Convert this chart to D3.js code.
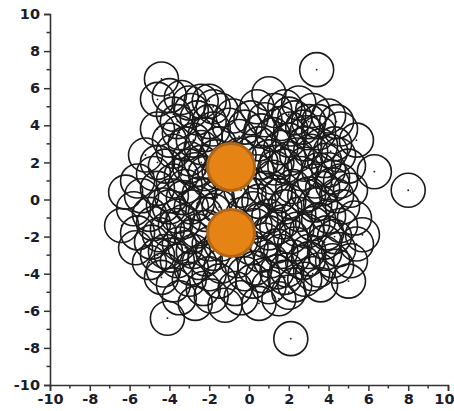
<!DOCTYPE html>
<html>
<head>
<meta charset="utf-8">
<script src="https://cdn.jsdelivr.net/npm/d3@7"></script>
<style>
  html, body { margin: 0; padding: 0; background: #fff; }
  svg { display: block; }
  .tick text { font-family: "DejaVu Sans", Arial, sans-serif; font-weight: bold; font-size: 14.5px; fill: #1b1b2c; }
</style>
</head>
<body>
<svg id="chart" width="454" height="411"></svg>
<script>
// Axis ticks (both axes share the same labelled values)
const xTicks = [-10, -8, -6, -4, -2, 0, 2, 4, 6, 8, 10];
const yTicks = [-10, -8, -6, -4, -2, 0, 2, 4, 6, 8, 10];
const minorTicks = [-9, -7, -5, -3, -1, 1, 3, 5, 7, 9];

// Scattered samples: x and y coordinates
const sampleX = [
  3.4, -4.4,
  -4.6, -3.4, -3.0, -2.0, -1.4, 1.0, 1.8, 2.5, 3.2,
  -3.8, -2.6, -2.0, -0.8, 0.1, 0.8, 1.6, 2.3, 3.0, 4.0, 4.6,
  -4.6, -4.0, -3.5, -2.8, -2.2, -1.5, -0.5, 0.5, 1.2, 2.0, 2.8, 3.5, 4.3, 5.4,
  -5.2, -4.6, -3.8, -3.0, -2.4, -1.7, 0.2, 1.0, 1.6, 2.4, 3.1, 3.8, 4.5, 5.0,
  -5.6, -4.8, -4.2, -3.4, -2.7, -2.0, 0.4, 1.2, 1.8, 2.6, 3.3, 4.0, 4.6, 6.3,
  -6.2, -5.4, -4.6, -3.9, -3.2, -2.5, -1.6, 0.0, 0.8, 1.5, 2.2, 3.0, 3.7, 4.4, 5.1, 8.0,
  -5.8, -5.0, -4.3, -3.6, -2.9, -2.2, 0.2, 1.0, 1.8, 2.5, 3.3, 4.0, 4.7, 5.3,
  -6.4, -5.6, -4.8, -4.1, -3.3, -2.6, 0.3, 1.0, 1.7, 2.4, 3.2, 3.9, 4.6, 5.7,
  -5.7, -4.9, -4.2, -3.5, -2.8, -2.0, 0.1, 0.8, 1.6, 2.3, 3.0, 3.8, 4.5, 5.4,
  -5.0, -4.3, -3.6, -2.9, -2.2, -1.4, -0.6, 0.3, 1.1, 1.9, 2.7, 3.5, 4.2, 5.1,
  -4.4, -3.8, -3.0, -2.3, -1.5, -0.7, 0.2, 1.0, 1.8, 2.8, 3.6, 5.0,
  -3.5, -2.7, -1.9, -1.2, -0.4, 0.5, 1.5, 2.0,
  -4.1, 2.1,
  -3.2, -2.4, -1.8, -0.2, 0.6, 1.4, 2.1, 2.9, 3.6, 4.1,
  -3.8, -3.0, -2.2, 0.6, 1.3, 2.0, 2.8, 3.5, 4.2,
  -4.0, -3.3, -2.6, -1.8, -0.4, 0.5, 1.3, 2.0, 2.8, 3.6, 4.2,
  -4.5, -3.7, -2.9, -2.1, 0.6, 1.4, 2.1, 2.9, 3.5, 4.3,
  -4.6, -3.9, -3.2, -2.5, -1.8, 0.6, 1.4, 2.2, 3.0, 3.8, 4.4,
  -2.0, -0.2, 0.7, 1.4, 2.3, 3.2,
  -1.0, -0.5, -1.5, -1.0, -0.4, -1.4, -0.9, -0.3, -1.5,
  -4.0, -3.6, -2.9, -2.4, -1.8, -1.0, 0.4, 1.3, 2.0, 2.7, 3.5, 4.4
];
const sampleY = [
  7.0, 6.5,
  5.4, 5.5, 5.2, 5.3, 4.8, 5.7, 5.0, 5.2, 4.8,
  4.6, 4.4, 4.2, 4.5, 4.4, 4.3, 4.1, 4.4, 4.2, 4.5, 3.8,
  3.8, 3.2, 3.6, 3.2, 3.5, 3.0, 3.4, 3.0, 3.5, 3.2, 3.0, 3.6, 3.0, 3.2,
  2.4, 2.0, 2.6, 2.2, 2.8, 2.3, 2.5, 2.3, 2.8, 2.4, 2.6, 2.1, 2.4, 1.8,
  1.0, 1.4, 1.8, 1.3, 1.6, 1.0, 1.5, 1.2, 1.8, 1.4, 1.0, 1.6, 1.0, 1.5,
  0.4, 0.2, 0.6, 0.2, 0.7, 0.3, 0.1, 0.3, 0.6, 0.2, 0.7, 0.3, 0.6, 0.2, 0.5, 0.5,
  -0.5, -0.8, -0.3, -0.9, -0.4, -0.8, -0.5, -0.9, -0.4, -0.8, -0.3, -0.9, -0.4, -1.0,
  -1.4, -1.8, -1.3, -1.6, -1.2, -1.7, -1.4, -1.8, -1.2, -1.6, -1.3, -1.8, -1.4, -1.9,
  -2.6, -2.3, -2.8, -2.4, -2.8, -2.4, -2.6, -2.2, -2.8, -2.4, -2.8, -2.3, -2.7, -2.4,
  -3.4, -3.8, -3.3, -3.7, -3.2, -3.6, -3.3, -3.7, -3.3, -3.8, -3.4, -3.8, -3.3, -3.3,
  -4.2, -4.6, -4.3, -4.8, -4.4, -4.8, -4.4, -4.7, -4.2, -4.3, -4.6, -4.4,
  -5.3, -5.6, -5.2, -5.7, -5.3, -5.6, -5.35, -5.0,
  -6.4, -7.5,
  3.0, 2.0, 3.8, 3.9, 3.7, 2.0, 3.8, 3.6, 2.9, 2.6,
  1.0, 1.8, 1.4, 2.0, 1.7, 2.2, 1.9, 1.6, 1.2,
  -0.4, 0.1, -0.2, -0.6, 0.5, -0.1, 0.4, -0.1, 0.2, -0.2, 0.8,
  -1.9, -1.4, -2.0, -1.5, -1.1, -1.5, -2.0, -1.7, -1.1, -2.0,
  -3.0, -3.0, -2.6, -3.4, -2.9, -3.0, -2.5, -3.1, -3.2, -2.9, -3.6,
  -4.0, -4.0, -4.1, -3.9, -4.6, -4.0,
  1.6, 2.4, 1.5, -1.8, -2.2, -2.4, 0.0, -0.8, -0.4,
  5.6, 4.2, 4.8, 5.3, 5.0, 4.0, 5.0, 4.8, 4.6, 3.9, 4.2, 4.2
];

// Highlighted centres
const focusX = [-0.9, -0.9];
const focusY = [1.75, -1.8];

const svg = d3.select("#chart");
const x = d3.scaleLinear().domain([-10, 10]).range([50, 448]);
const y = d3.scaleLinear().domain([-10, 10]).range([385, 14]);

const axisColor = "#333";

// Minor ticks
const gMinor = svg.append("g");
gMinor.selectAll("line.mx").data(minorTicks).join("line")
  .attr("x1", d => x(d)).attr("x2", d => x(d))
  .attr("y1", y(-10)).attr("y2", y(-10) + 3.5)
  .attr("stroke", axisColor).attr("stroke-width", 1.5);
gMinor.selectAll("line.my").data(minorTicks).join("line")
  .attr("y1", d => y(d)).attr("y2", d => y(d))
  .attr("x1", x(-10)).attr("x2", x(-10) - 3.5)
  .attr("stroke", axisColor).attr("stroke-width", 1.5);

// Axes
const xAxis = svg.append("g")
  .attr("transform", `translate(0,${y(-10)})`)
  .call(d3.axisBottom(x).tickValues(xTicks).tickSize(6).tickPadding(3).tickFormat(d3.format("d")));
const yAxis = svg.append("g")
  .attr("transform", `translate(${x(-10)},0)`)
  .call(d3.axisLeft(y).tickValues(yTicks).tickSize(6).tickPadding(4).tickFormat(d3.format("d")));
[xAxis, yAxis].forEach(g => {
  g.select(".domain").attr("stroke", axisColor).attr("stroke-width", 1.6);
  g.selectAll(".tick line").attr("stroke", axisColor).attr("stroke-width", 1.5);
  g.selectAll(".tick text").text(d => String(d));
});
// keep the last x label inside the page edge
xAxis.selectAll(".tick text").filter(d => d === 10)
  .attr("text-anchor", "end").attr("transform", "translate(6,0)");

// Hollow sample circles with centre dots
const samples = d3.range(sampleX.length).map(i => [sampleX[i], sampleY[i]]);
const gS = svg.append("g");
gS.selectAll("circle.ring").data(samples).join("circle")
  .attr("class", "ring")
  .attr("cx", d => x(d[0])).attr("cy", d => y(d[1]))
  .attr("r", 17)
  .attr("fill", "none")
  .attr("stroke", "#1a1a1a")
  .attr("stroke-width", 1.6);
gS.selectAll("circle.dot").data(samples).join("circle")
  .attr("class", "dot")
  .attr("cx", d => x(d[0])).attr("cy", d => y(d[1]))
  .attr("r", 0.9)
  .attr("fill", "#1a1a1a");

// Highlighted points
const focus = d3.range(focusX.length).map(i => [focusX[i], focusY[i]]);
svg.append("g").selectAll("circle").data(focus).join("circle")
  .attr("cx", d => x(d[0])).attr("cy", d => y(d[1]))
  .attr("r", 23.5)
  .attr("fill", "#e58315")
  .attr("stroke", "#b0651a")
  .attr("stroke-width", 3);
</script>
</body>
</html>
